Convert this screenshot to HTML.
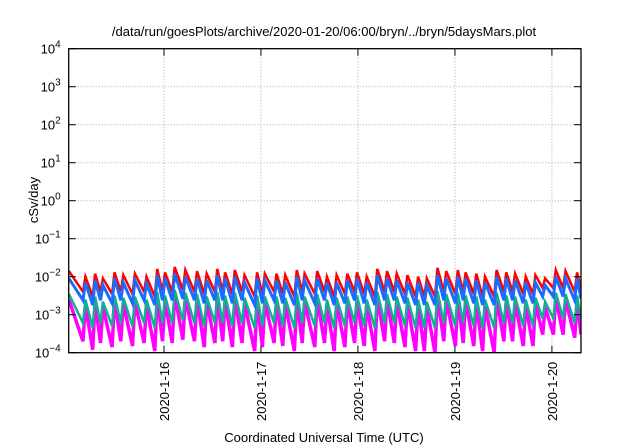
<!DOCTYPE html>
<html><head><meta charset="utf-8"><style>
body{margin:0;background:#fff;width:640px;height:448px;overflow:hidden}
svg{display:block;font-family:"Liberation Sans",sans-serif}
</style></head><body>
<svg id="chart" width="640" height="448">
<text x="324" y="36" text-anchor="middle" font-size="13">/data/run/goesPlots/archive/2020-01-20/06:00/bryn/../bryn/5daysMars.plot</text>
<text transform="translate(38,200) rotate(-90)" text-anchor="middle" font-size="13">cSv/day</text>
<text x="324" y="442" text-anchor="middle" font-size="13">Coordinated Universal Time (UTC)</text>
<g id="grid"></g><g id="series"></g><g id="axes"></g>
</svg>
<script>
const yTickExps=[-4,-3,-2,-1,0,1,2,3,4];
const xTickDays=[1,2,3,4,5];
const xTickLabels=["2020-1-16","2020-1-17","2020-1-18","2020-1-19","2020-1-20"];
const peakTimes=[0.02,0.19,0.29,0.37,0.49,0.58,0.70,0.82,0.93,1.01,1.11,1.22,1.34,1.44,1.55,1.63,1.73,1.83,1.96,2.04,2.16,2.25,2.37,2.45,2.58,2.68,2.78,2.89,2.99,3.09,3.20,3.30,3.40,3.51,3.62,3.71,3.82,3.91,4.03,4.11,4.22,4.31,4.43,4.53,4.62,4.73,4.83,4.93,5.04,5.14,5.26];
const redPeaks=[14,10,12,9,13,11,12,10,16,13,18,15,14,12,16,13,15,11,13,12,12,11,15,12,14,10,11,12,13,10,16,14,12,11,10,9,17,14,15,13,12,10,15,13,12,10,11,9,15,14,13];
const redTroughs=[4,3,4,3.5,4,3.5,4,3,4,4,4.5,4,3.5,4,4,3.5,4,3,3.5,4,3.5,3,4,3.5,4,3,3.5,4,3.5,3,4,4,3.5,3,3,3,4,3.5,4,3.5,3,3,4,4,3.5,3.5,5,5,5,4,4.5];
const bluePeaks=[9,7,8,6,9,7,8,6.5,11,9,12,10,9,8,11,9,10,7,9,8,8,7,10,8,9,7,7,8,9,7,11,9,8,7,7,6,11,9,10,9,8,7,10,9,8,7,7,6,10,9,9];
const blueTroughs=[2.4,1.8,2.4,2,2.4,2,2.4,1.8,2.4,2.4,2.6,2.4,2,2.4,2.4,2,2.4,1.8,2,2.4,2,1.8,2.4,2,2.4,1.8,2,2.4,2,1.8,2.4,2.4,2,1.8,1.8,1.8,2.4,2,2.4,2,1.8,1.8,2.4,2.4,2,2,3,3,3,2.4,2.6];
const tealPeaks=[35,25,30,22,32,28,30,25,40,32,45,38,35,30,40,32,38,28,32,30,30,28,38,30,35,25,28,30,32,25,40,35,30,28,25,22,42,35,38,32,30,25,38,32,30,25,28,22,38,35,32];
const tealTroughs=[6,4.5,6,5,6,5,6,4.5,6,6,7,6,5,6,6,5,6,4.5,5,6,5,4.5,6,5,6,4.5,5,6,5,4.5,6,6,5,4.5,4.5,4.5,6,5,6,5,4.5,4.5,6,6,5,5,8,8,8,6,7];
const magentaPeaks=[25,18,22,16,24,20,22,18,30,24,34,28,26,22,30,24,28,20,24,22,22,20,28,22,26,18,20,22,24,18,30,26,22,20,18,16,32,26,28,24,22,18,28,24,22,18,20,16,28,26,24];
const magentaTroughs=[2,1.2,1.8,1.4,2,1.5,1.8,1.1,2,1.8,2.2,2,1.4,1.8,2,1.4,1.8,1.1,1.4,1.8,1.5,1.1,1.8,1.4,1.8,1.1,1.4,1.8,1.5,1.1,2,1.8,1.4,1.1,1.1,1,2,1.5,1.8,1.5,1.1,1,2,2,1.5,1.5,3,3,3,2.5,3];

const L=68.7,R=581,T=48.7,B=352.7,t0=0.0175,t1=5.30;
const NS="http://www.w3.org/2000/svg";
function xS(t){return L+(t-t0)/(t1-t0)*(R-L);}
function yS(v){return B-(Math.log10(v)+4)/8*(B-T);}
function mk(tag,attrs,parent){const e=document.createElementNS(NS,tag);for(const k in attrs)e.setAttribute(k,attrs[k]);parent.appendChild(e);return e;}
const grid=document.getElementById('grid'),axes=document.getElementById('axes'),ser=document.getElementById('series');
yTickExps.forEach(e=>{
  const y=yS(Math.pow(10,e));
  if(e>-4&&e<4){const g=mk('line',{x1:L,x2:R,y1:y,y2:y,stroke:'#aaa','stroke-dasharray':'1,2','stroke-width':1},grid);
  
  }
  mk('line',{x1:L,x2:L+7,y1:y,y2:y,stroke:'#000'},axes);
  mk('line',{x1:R,x2:R-7,y1:y,y2:y,stroke:'#000'},axes);
  const tx=mk('text',{x:L-8,y:y+5,'text-anchor':'end','font-size':13},axes);
  
  
  tx.textContent='10';
  const sp=mk('tspan',{dy:-6,'font-size':10},tx);sp.textContent=String(e).replace('-','\u2212');
});
xTickDays.forEach((d,i)=>{
  const x=xS(d);
  const g=mk('line',{x1:x,x2:x,y1:T,y2:B,stroke:'#aaa','stroke-dasharray':'1,2'},grid);
  
  
  mk('line',{x1:x,x2:x,y1:B,y2:B-7,stroke:'#000'},axes);
  mk('line',{x1:x,x2:x,y1:T,y2:T+7,stroke:'#000'},axes);
  const tx=mk('text',{transform:`translate(${x+5},${B+9}) rotate(-90)`,'text-anchor':'end','font-size':13},axes);
  
  
  tx.textContent=xTickLabels[i];
});
const frame=mk('rect',{x:L,y:T,width:R-L,height:B-T,fill:'none',stroke:'#000','stroke-width':1.3},axes);


const cp=mk('clipPath',{id:'clip'},ser);mk('rect',{x:L,y:T,width:R-L,height:B-T},cp);
function drawSeries(peaks,troughs,color,w,name){
  let d='';
  for(let i=0;i<peakTimes.length;i++){
    const tn=i+1<peakTimes.length?peakTimes[i+1]-0.025:t1;
    d+=(i?'L':'M')+xS(peakTimes[i]).toFixed(1)+','+yS(peaks[i]).toFixed(1)+'L'+xS(tn).toFixed(1)+','+yS(troughs[i]).toFixed(1);
  }
  const p=mk('path',{d:d,fill:'none',stroke:color,'stroke-width':w,'stroke-linejoin':'miter','clip-path':'url(#clip)'},ser);
  
  
}
const sc=v=>v.map(x=>x*1e-3), sc4=v=>v.map(x=>x*1e-4);
drawSeries(sc4(magentaPeaks),sc4(magentaTroughs),'#ff00ff',3.5,'series-magenta');
drawSeries(sc4(tealPeaks),sc4(tealTroughs),'#10b090',2.5,'series-teal');
drawSeries(sc(redPeaks),sc(redTroughs),'#ff0000',2.5,'series-red');
drawSeries(sc(bluePeaks),sc(blueTroughs),'#1a6cff',3,'series-blue');
</script>
</body></html>
